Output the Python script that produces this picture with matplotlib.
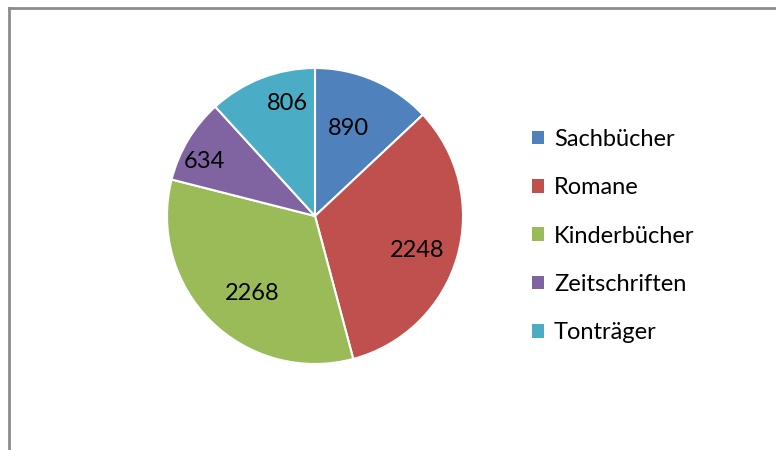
import numpy as np
import matplotlib.pyplot as plt
from matplotlib.patches import Patch
from matplotlib.lines import Line2D

plt.rcParams['font.family'] = ['Lato', 'DejaVu Sans']

categories = ["Sachbücher", "Romane", "Kinderbücher", "Zeitschriften", "Tonträger"]
values = [890, 2248, 2268, 634, 806]
colors = ["#4F81BD", "#C0504D", "#9BBB59", "#8064A2", "#4BACC6"]
# value label placement: fraction of radius and angle shift from wedge middle (deg)
label_r = [0.635, 0.73, 0.675, 0.83, 0.78]
label_shift = [2.8, -2.5, 5.9, 4.8, -7.6]

W, H = 776, 450
fig = plt.figure(figsize=(W / 100, H / 100), dpi=100)

# chart frame (only left and top visible)
fig.add_artist(Line2D([8.5 / W, 8.5 / W], [0, 1 - 7.5 / H], color="#8c8c8c", lw=2))
fig.add_artist(Line2D([8.5 / W, 1], [1 - 7.5 / H, 1 - 7.5 / H], color="#8c8c8c", lw=2))

cx, cy, r = 315, 216, 148
ax = fig.add_axes([(cx - r) / W, (H - cy - r) / H, 2 * r / W, 2 * r / H])
wedges, _ = ax.pie(values, colors=colors, startangle=90, counterclock=False,
                   wedgeprops=dict(edgecolor="white", linewidth=1.5))
ax.set_xlim(-1, 1)
ax.set_ylim(-1, 1)
ax.set_aspect("equal")
ax.axis("off")

for w, v, lr, sh in zip(wedges, values, label_r, label_shift):
    ang = np.deg2rad((w.theta1 + w.theta2) / 2 + sh)
    ax.text(lr * np.cos(ang), lr * np.sin(ang), str(v), ha="center", va="center",
            fontsize=17, color="black")

handles = [Patch(facecolor=c, edgecolor="none") for c in colors]
fig.legend(handles, categories, loc="center left", bbox_to_anchor=(523 / W, 1 - 236 / H),
           frameon=False, fontsize=17, handlelength=0.51, handleheight=0.51,
           handletextpad=0.4, labelspacing=1.16, borderaxespad=0)

fig.savefig("out.png", dpi=100)
